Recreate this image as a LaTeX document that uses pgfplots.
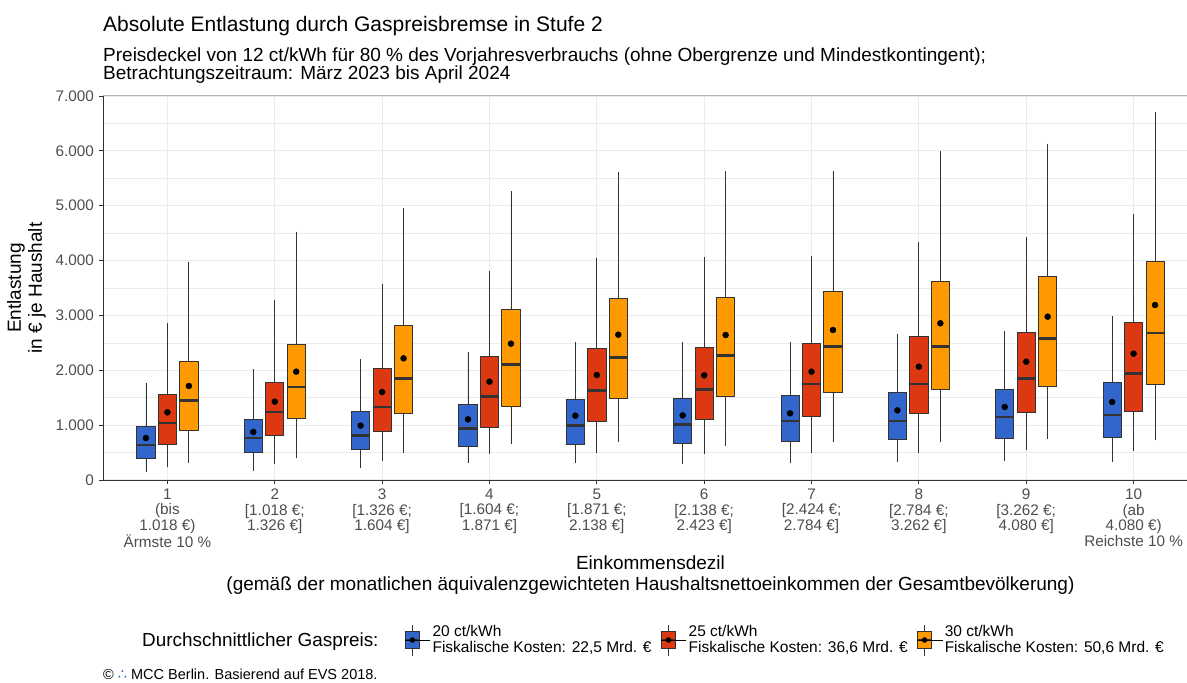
\documentclass[border=0pt]{standalone}
\usepackage{pgfplots}
\usepackage{pgfplotstable}
\usepgfplotslibrary{statistics}
\pgfplotsset{compat=1.18}
\usepackage{fontspec}
\setmainfont{Liberation Sans}
\newfontfamily\dejavu{DejaVu Sans}
\definecolor{cA}{HTML}{3366CC}
\definecolor{cB}{HTML}{DC3912}
\definecolor{cC}{HTML}{FF9900}
\definecolor{tickgray}{HTML}{4D4D4D}
\definecolor{gridgray}{HTML}{EBEBEB}
\definecolor{boxline}{HTML}{333333}

% columns: position, lower whisker, lower quartile, median, upper quartile, upper whisker, mean
\pgfplotstableread{
pos lw lq med uq uw mean
0.8 140 395 638 972 1768 766
1.8 170 498 766 1100 2018 875
2.8 212 553 815 1258 2206 991
3.8 304 608 942 1380 2333 1106
4.8 304 656 990 1471 2510 1172
5.8 286 675 1008 1489 2510 1178
6.8 304 711 1076 1544 2510 1216
7.8 322 742 1076 1604 2667 1270
8.8 341 760 1148 1659 2722 1331
9.8 322 778 1185 1781 2984 1422
}\tblA
\pgfplotstableread{
pos lw lq med uq uw mean
1.0 231 656 1039 1562 2860 1234
2.0 298 815 1240 1781 3281 1428
3.0 346 887 1331 2042 3576 1604
4.0 474 961 1519 2255 3804 1792
5.0 498 1063 1628 2394 4047 1914
6.0 468 1100 1646 2419 4071 1908
7.0 498 1154 1750 2485 4078 1975
8.0 498 1209 1750 2619 4333 2066
9.0 547 1240 1853 2692 4430 2157
10.0 529 1252 1945 2875 4844 2303
}\tblB
\pgfplotstableread{
pos lw lq med uq uw mean
1.2 310 906 1453 2164 3974 1714
2.2 407 1118 1695 2473 4524 1975
3.2 492 1215 1853 2820 4956 2218
4.2 651 1343 2102 3112 5263 2485
5.2 687 1489 2237 3312 5609 2649
6.2 620 1519 2273 3336 5633 2643
7.2 693 1592 2437 3433 5633 2735
8.2 693 1659 2437 3622 6004 2857
9.2 754 1701 2576 3713 6125 2977
10.2 724 1750 2680 3992 6703 3190
}\tblC

% draw one box from row #2 of table #1 with fill colour #3
\newcommand\drawbox[3]{%
  \pgfplotstablegetelem{#2}{pos}\of#1\let\bxpos\pgfplotsretval
  \pgfplotstablegetelem{#2}{lw}\of#1\let\bxlw\pgfplotsretval
  \pgfplotstablegetelem{#2}{lq}\of#1\let\bxlq\pgfplotsretval
  \pgfplotstablegetelem{#2}{med}\of#1\let\bxmed\pgfplotsretval
  \pgfplotstablegetelem{#2}{uq}\of#1\let\bxuq\pgfplotsretval
  \pgfplotstablegetelem{#2}{uw}\of#1\let\bxuw\pgfplotsretval
  \edef\bxcmd{\noexpand\addplot[boxplot prepared={draw position=\bxpos, lower whisker=\bxlw, lower quartile=\bxlq, median=\bxmed, upper quartile=\bxuq, upper whisker=\bxuw}, fill=#3, forget plot] coordinates {};}%
  \bxcmd
}

\pgfplotsset{
  legkey/.style={legend image code/.code={
    \draw[draw=boxline, line width=0.8pt] (7pt,-15.5pt) -- (7pt,15.5pt);
    \draw[draw=boxline, line width=0.8pt, fill=#1] (0pt,-8.5pt) rectangle (14pt,8.5pt);
    \draw[draw=boxline, line width=1.6pt] (0pt,0pt) -- (14pt,0pt);
    \fill[black] (7pt,0pt) circle (2.5pt);
    \path (0pt,0pt) -- (25pt,0pt);
  }},
}

\begin{document}
\begin{tikzpicture}
\useasboundingbox (0,0) rectangle (1187pt,683pt);
\node[anchor=base west, inner sep=0pt, font=\fontsize{21}{25}\selectfont] at (103pt,651pt) {Absolute Entlastung durch Gaspreisbremse in Stufe 2};
\node[anchor=base west, inner sep=0pt, font=\fontsize{19}{22}\selectfont] at (103pt,621pt) {Preisdeckel von 12 ct/kWh für 80 \% des Vorjahresverbrauchs (ohne Obergrenze und Mindestkontingent);};
\node[anchor=base west, inner sep=0pt, font=\fontsize{19}{22}\selectfont] at (103pt,603pt) {Betrachtungszeitraum: März 2023 bis April 2024};
\node[anchor=base west, inner sep=0pt, font=\fontsize{14.5}{16}\selectfont] at (103pt,3pt) {© {\color{cA}\dejavu ∴} MCC Berlin. Basierend auf EVS 2018.};

\begin{axis}[
  at={(103pt,203pt)}, anchor=south west,
  scale only axis, width=1095pt, height=384pt,
  xmin=0.4, xmax=10.6, ymin=0, ymax=7000,
  axis lines*=left,
  axis line style={draw=boxline, line width=0.9pt},
  xtick={1,...,10},
  xticklabels={
    {1\\(bis\\1.018 €)\\Ärmste 10 \%},
    {2\\{}[1.018 €;\\1.326 €]},
    {3\\{}[1.326 €;\\1.604 €]},
    {4\\{}[1.604 €;\\1.871 €]},
    {5\\{}[1.871 €;\\2.138 €]},
    {6\\{}[2.138 €;\\2.423 €]},
    {7\\{}[2.424 €;\\2.784 €]},
    {8\\{}[2.784 €;\\3.262 €]},
    {9\\{}[3.262 €;\\4.080 €]},
    {10\\(ab\\4.080 €)\\Reichste 10 \%}},
  ytick={0,1000,...,7000},
  minor ytick={500,1500,...,6500},
  xmajorgrids, ymajorgrids, yminorgrids,
  major grid style={draw=gridgray, line width=1.1pt},
  minor grid style={draw=gridgray, line width=0.6pt},
  xtick pos=bottom, ytick pos=left,
  tick align=outside,
  major tick length=4pt, minor tick length=0pt,
  major tick style={draw=boxline, line width=0.8pt},
  tick label style={font=\fontsize{15.3}{15.7}\selectfont, text=tickgray},
  xticklabel style={align=center, anchor=north, inner sep=0pt, yshift=-4.5pt},
  yticklabel style={xshift=-1.5pt},
  /pgf/number format/1000 sep={.},
  /pgf/number format/assume math mode=true,
  xlabel={Einkommensdezil\\(gemäß der monatlichen äquivalenzgewichteten Haushaltsnettoeinkommen der Gesamtbevölkerung)},
  xlabel style={align=center, font=\fontsize{19}{20.5}\selectfont, at={(rel axis cs:0.5,0)}, anchor=north, inner sep=0pt, yshift=-76pt},
  ylabel={Entlastung\\in € je Haushalt},
  ylabel style={align=center, font=\fontsize{19}{21}\selectfont, at={(rel axis cs:0,0.5)}, anchor=south, inner sep=0pt, yshift=57pt},
  boxplot/draw direction=y,
  boxplot/box extend=0.17,
  boxplot/whisker extend=0,
  boxplot/every box/.style={draw=boxline, line width=0.8pt},
  boxplot/every median/.style={draw=boxline, line width=2.6pt},
  boxplot/every whisker/.style={draw=boxline, line width=0.8pt},
  legend columns=4,
  legend style={at={(rel axis cs:0.0338,-0.4167)}, anchor=west, draw=none, fill=none, inner sep=0pt,
    font=\fontsize{15.5}{16}\selectfont, cells={anchor=west, align=left},
    /tikz/every even column/.append style={column sep=7pt}},
  after end axis/.code={\draw[draw=gray!60, line width=1pt] (rel axis cs:0,1) -- (rel axis cs:1,1);},
]
\pgfplotsinvokeforeach{0,...,9}{
  \drawbox{\tblA}{#1}{cA}
  \drawbox{\tblB}{#1}{cB}
  \drawbox{\tblC}{#1}{cC}
}
\addplot[only marks, mark=*, mark size=3pt, mark options={fill=black, draw=black}, forget plot] table[x=pos, y=mean] {\tblA};
\addplot[only marks, mark=*, mark size=3pt, mark options={fill=black, draw=black}, forget plot] table[x=pos, y=mean] {\tblB};
\addplot[only marks, mark=*, mark size=3pt, mark options={fill=black, draw=black}, forget plot] table[x=pos, y=mean] {\tblC};

\addlegendimage{empty legend}
\addlegendentry{\fontsize{18.9}{20}\selectfont Durchschnittlicher Gaspreis:\hspace{17pt}}
\addlegendimage{legkey=cA}
\addlegendentry{20 ct/kWh\\Fiskalische Kosten: 22,5 Mrd. €}
\addlegendimage{legkey=cB}
\addlegendentry{25 ct/kWh\\Fiskalische Kosten: 36,6 Mrd. €}
\addlegendimage{legkey=cC}
\addlegendentry{30 ct/kWh\\Fiskalische Kosten: 50,6 Mrd. €}
\end{axis}
\end{tikzpicture}
\end{document}
